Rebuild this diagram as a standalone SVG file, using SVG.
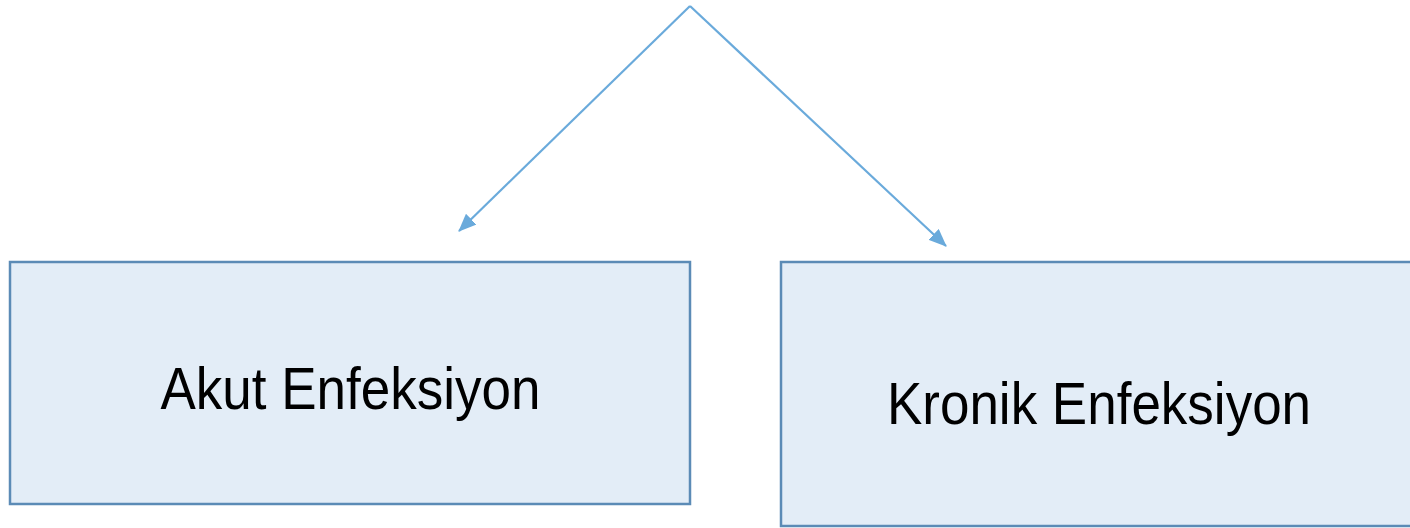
<svg xmlns="http://www.w3.org/2000/svg" width="1410" height="528" viewBox="0 0 1410 528">
<style>
.box{fill:#e3edf7;stroke:#5b8bb6;stroke-width:2.5}
.lbl{font-family:"Liberation Sans",Arial,sans-serif;font-size:53px;fill:#000;text-anchor:middle}
.con{stroke:#6aaadb;stroke-width:2.2;fill:none}
</style>
<defs>
<marker id="arrow" markerWidth="18" markerHeight="15" refX="17" refY="7.5" orient="auto" markerUnits="userSpaceOnUse">
<path d="M0,0 L18,7.5 L0,15 z" fill="#6aaadb"/>
</marker>
</defs>
<g id="connectors">
<path class="con" d="M690,6 L459,231" marker-end="url(#arrow)"/>
<path class="con" d="M690,6 L946,246" marker-end="url(#arrow)"/>
</g>
<g id="akut">
<rect class="box" x="10" y="262" width="680" height="242"/>
<text class="lbl" transform="translate(350.5,409) scale(1,1.11)">Akut Enfeksiyon</text>
</g>
<g id="kronik">
<rect class="box" x="781" y="262" width="640" height="264"/>
<text class="lbl" transform="translate(1099,424) scale(1,1.11)">Kronik Enfeksiyon</text>
</g>
</svg>
